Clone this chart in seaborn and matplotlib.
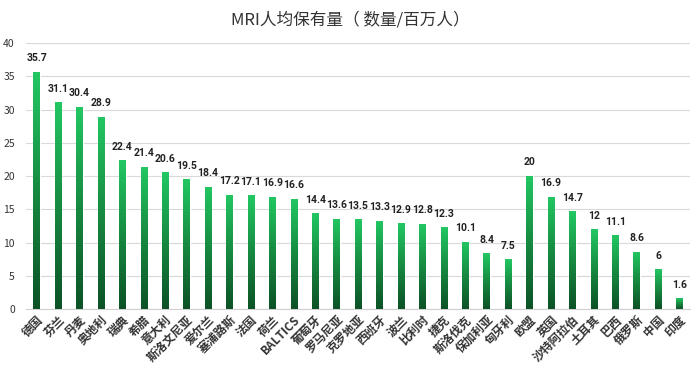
import numpy as np
import pandas as pd
import seaborn as sns
from matplotlib import pyplot as plt
from matplotlib.colors import LinearSegmentedColormap

countries = ["德国", "芬兰", "丹麦", "奥地利", "瑞典", "希腊", "意大利", "斯洛文尼亚",
             "爱尔兰", "塞浦路斯", "法国", "荷兰", "BALTICS", "葡萄牙", "罗马尼亚",
             "克罗地亚", "西班牙", "波兰", "比利时", "捷克", "斯洛伐克", "保加利亚",
             "匈牙利", "欧盟", "英国", "沙特阿拉伯", "土耳其", "巴西", "俄罗斯",
             "中国", "印度"]
mri_per_million = [35.7, 31.1, 30.4, 28.9, 22.4, 21.4, 20.6, 19.5, 18.4, 17.2, 17.1,
                   16.9, 16.6, 14.4, 13.6, 13.5, 13.3, 12.9, 12.8, 12.3, 10.1, 8.4,
                   7.5, 20, 16.9, 14.7, 12, 11.1, 8.6, 6, 1.6]
y_ticks = [0, 5, 10, 15, 20, 25, 30, 35, 40]

sns.set_style("white")
plt.rcParams["font.family"] = ["Noto Sans CJK SC", "DejaVu Sans"]

df = pd.DataFrame({"country": countries, "value": mri_per_million})

fig = plt.figure(figsize=(7, 3.72), dpi=100)
ax = fig.add_axes([0.037, 0.169, 0.949, 0.715])

sns.barplot(data=df, x="country", y="value", color="#22c55e", width=0.3, ax=ax,
            zorder=2)

# vertical gradient inside every bar, dark at the bottom, light at the top
cmap = LinearSegmentedColormap.from_list("grn", ["#0c5226", "#178a41", "#22c862"])
grad = np.linspace(0, 1, 256).reshape(-1, 1)
for patch in ax.patches:
    x0, y0 = patch.get_x(), patch.get_y()
    w, h = patch.get_width(), patch.get_height()
    im = ax.imshow(grad, cmap=cmap, origin="lower", aspect="auto",
                   extent=[x0, x0 + w, y0, y0 + h], zorder=3)
    im.set_clip_path(patch)
    ax.text(x0 + w / 2, y0 + h + 1.3, f"{h:g}", ha="center", va="bottom",
            fontsize=7.5, fontweight="bold", color="#222222",
            family=["Liberation Sans Narrow", "Roboto", "DejaVu Sans"])

ax.set_xlim(-0.5, len(countries) - 0.5)
ax.set_ylim(0, 40)
ax.set_yticks(y_ticks)
ax.tick_params(axis="y", labelsize=7.5, pad=8, length=0, labelcolor="#333333")
ax.tick_params(axis="x", length=0, pad=3)
ax.set_xticks(range(len(countries)))
ax.set_xticklabels(countries, rotation=45, ha="right", rotation_mode="anchor",
                   fontsize=8.5, fontweight="bold", color="#333333")
ax.yaxis.grid(True, color="#d9d9d9", linewidth=0.8, zorder=0)
ax.set_axisbelow(True)
for s in ["top", "right", "left"]:
    ax.spines[s].set_visible(False)
ax.spines["bottom"].set_color("#d0d0d0")
ax.set_xlabel("")
ax.set_ylabel("")

fig.suptitle("MRI人均保有量（ 数量/百万人）", y=0.97, fontsize=12, color="#333333")

fig.savefig("out.png", dpi=100)
